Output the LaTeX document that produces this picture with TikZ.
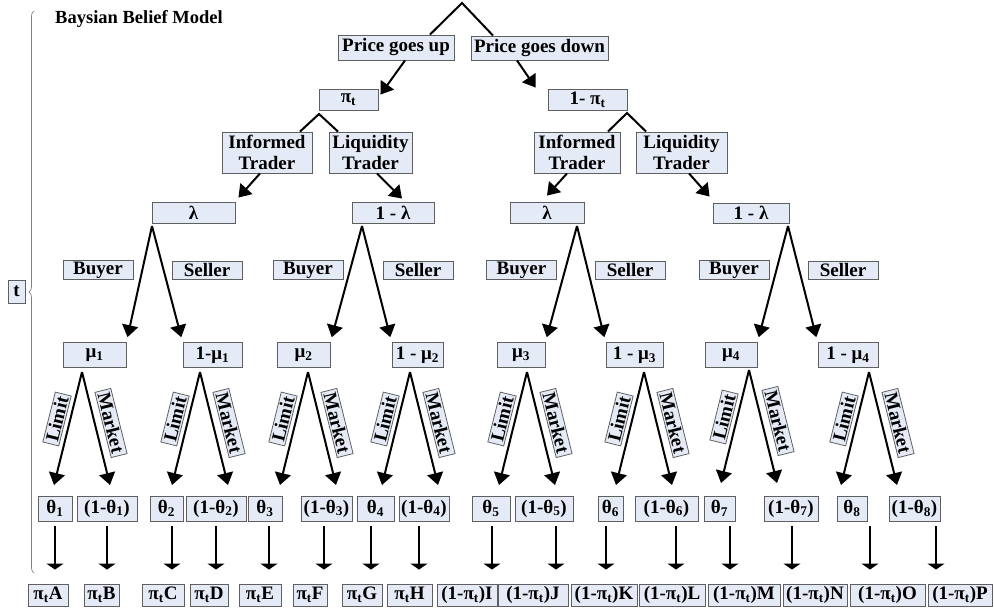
\documentclass[tikz,border=0pt]{standalone}
\usepackage{fontspec}
\setmainfont{Liberation Serif}
\usepackage{tikz}
\usetikzlibrary{arrows.meta,calc,decorations.pathreplacing}

\definecolor{boxfill}{RGB}{228,234,246}
\definecolor{boxline}{RGB}{95,95,95}

\begin{document}
\begin{tikzpicture}[x=1pt,y=-1pt,
  tbox/.style 2 args={draw=boxline,fill=boxfill,line width=0.9pt,inner sep=1pt,align=center,
    font=\fontsize{19}{21}\selectfont\bfseries,minimum width=#1pt,minimum height=#2pt},
  tag/.style={draw=boxline,fill=boxfill,line width=0.8pt,inner xsep=3pt,inner ysep=1.5pt,
    font=\fontsize{19}{21}\selectfont\bfseries},
  ln/.style={line width=2pt},
  arr/.style={line width=2pt,-{Triangle[width=16pt,length=12pt]}},
  varr/.style={line width=1.8pt,-{Triangle[width=17pt,length=6pt]},shorten <=5pt,shorten >=14pt}]
\useasboundingbox (0,0) rectangle (994,613);

\node[font=\fontsize{18.5}{21}\selectfont\bfseries] (title) at (139,19) {Baysian Belief Model};
\node[tbox={17}{23}] (tm) at (16.5,291.5) {t};
\draw[gray,line width=0.7pt,decorate,decoration={brace,amplitude=5pt}] (34,573) -- (34,11);

% price and trader level
\coordinate (top) at (462,3);
\node[tbox={116}{25}] (up) at (396,47.5) {Price goes up};
\node[tbox={137}{24}] (down) at (539.5,48) {Price goes down};
\draw[ln] (430,0 |- up.north) -- (top) -- (493,0 |- down.north);
\node[tbox={59}{21}] (pi) at (348.5,99.5) {π\textsubscript{t}};
\node[tbox={79}{21}] (npi) at (587.5,99.5) {1- π\textsubscript{t}};
\draw[arr] (405,0 |- up.south) -- ([xshift=2pt,yshift=-6pt]pi.north east);
\draw[arr] (517,0 |- down.south) -- ([xshift=-12pt,yshift=1pt]npi.north west);

\node[tbox={90}{41}] (inf1) at (267,152.5) {Informed\\Trader};
\node[tbox={83}{41}] (liq1) at (370.5,152.5) {Liquidity\\Trader};
\node[tbox={86}{41}] (inf2) at (577,152.5) {Informed\\Trader};
\node[tbox={91}{41}] (liq2) at (681.5,152.5) {Liquidity\\Trader};
\coordinate (pa) at (319,114);
\coordinate (pb) at (627,113);
\draw[ln] (300,0 |- inf1.north) -- (pa) -- (338,0 |- liq1.north);
\draw[ln] (608,0 |- inf2.north) -- (pb) -- (646,0 |- liq2.north);

\node[tbox={83}{21}] (lam1) at (193.5,212.5) {λ};
\node[tbox={82}{21}] (nlam1) at (393,212.5) {1 - λ};
\node[tbox={74}{21}] (lam2) at (547,212.5) {λ};
\node[tbox={76}{20}] (nlam2) at (751,213) {1 - λ};
\draw[arr] (260,0 |- inf1.south) -- ([xshift=3pt,yshift=4pt]lam1.north east);
\draw[arr] (377,0 |- liq1.south) -- ([xshift=9pt,yshift=3pt]nlam1.north);
\draw[arr] (567,0 |- inf2.south) -- ([yshift=6pt]lam2.north);
\draw[arr] (689,0 |- liq2.south) -- ([xshift=-3pt,yshift=6pt]nlam2.north west);

% buyer / seller level
\foreach \n/\x in {1/98,2/308,3/521.5,4/734}
  \node[tbox={70}{18}] (buy\n) at (\x,270) {Buyer};
\foreach \n/\x in {1/207,2/418,3/630,4/843}
  \node[tbox={70}{18}] (sel\n) at (\x,270) {Seller};

\foreach \n/\x/\w/\t in {mu1/94.5/63/μ\textsubscript{1}, nmu1/212.5/59/1-μ\textsubscript{1},
  mu2/303.5/53/μ\textsubscript{2}, nmu2/417.5/51/1 - μ\textsubscript{2},
  mu3/521/48/μ\textsubscript{3}, nmu3/634.5/57/1 - μ\textsubscript{3},
  mu4/731/52/μ\textsubscript{4}, nmu4/848/60/1 - μ\textsubscript{4}}
  \node[tbox={\w}{25}] (\n) at (\x,355) {\t};

\foreach \a/\x in {1/152,2/362,3/577,4/788} {
  \coordinate (la\a) at (\x,226);
  \draw[arr,shorten >=5pt] (la\a) -- (mu\a.north east);
  \draw[arr,shorten >=5pt] (la\a) -- (nmu\a.north west);
}

% limit / market level
\foreach \a/\x/\y in {1/82/372,2/200/372,3/308/372,4/410/372,5/527/372,6/644/372,7/749/370,8/869/372} {
  \coordinate (v\a) at (\x,\y);
  \draw[arr] (v\a) -- ++(-28,113);
  \draw[arr] (v\a) -- ++(28,113);
  \node[tag,rotate=76] (lim\a) at ($(v\a)+(-25,47)$) {Limit};
  \node[tag,rotate=-76] (mkt\a) at ($(v\a)+(29,51)$) {Market};
}

\foreach \n/\x/\w/\t in {1/55/34/θ\textsubscript{1}, 2/107/60/(1-θ\textsubscript{1}),
  3/166.5/33/θ\textsubscript{2}, 4/216/60/(1-θ\textsubscript{2}),
  5/265/34/θ\textsubscript{3}, 6/326.5/51/(1-θ\textsubscript{3}),
  7/375.5/37/θ\textsubscript{4}, 8/424/50/(1-θ\textsubscript{4}),
  9/491/38/θ\textsubscript{5}, 10/544/58/(1-θ\textsubscript{5}),
  11/610.5/25/θ\textsubscript{6}, 12/666.5/63/(1-θ\textsubscript{6}),
  13/719.5/31/θ\textsubscript{7}, 14/791/54/(1-θ\textsubscript{7}),
  15/852/30/θ\textsubscript{8}, 16/914.5/51/(1-θ\textsubscript{8})}
  \node[tbox={\w}{25}] (th\n) at (\x,508.5) {\t};

\foreach \n/\x/\w/\t in {1/48/40/π\textsubscript{t}A, 2/101.5/35/π\textsubscript{t}B,
  3/163/42/π\textsubscript{t}C, 4/209/38/π\textsubscript{t}D,
  5/260/42/π\textsubscript{t}E, 6/310/34/π\textsubscript{t}F,
  7/362/40/π\textsubscript{t}G, 8/409.5/45/π\textsubscript{t}H,
  9/467/60/(1-π\textsubscript{t})I, 10/533/70/(1-π\textsubscript{t})J,
  11/604/66/(1-π\textsubscript{t})K, 12/672/66/(1-π\textsubscript{t})L,
  13/744/72/(1-π\textsubscript{t})M, 14/815/64/(1-π\textsubscript{t})N,
  15/887.5/75/(1-π\textsubscript{t})O, 16/960/64/(1-π\textsubscript{t})P}
  \node[tbox={\w}{22}] (pb\n) at (\x,595) {\t};

\foreach \n/\x in {1/55,2/107,3/172,4/216,5/269,6/324,7/371,8/419,
  9/492,10/556,11/606,12/676,13/730,14/792,15/870,16/936}
  \draw[varr] (\x,0 |- th\n.south) -- (\x,0 |- pb\n.north);
\end{tikzpicture}
\end{document}
